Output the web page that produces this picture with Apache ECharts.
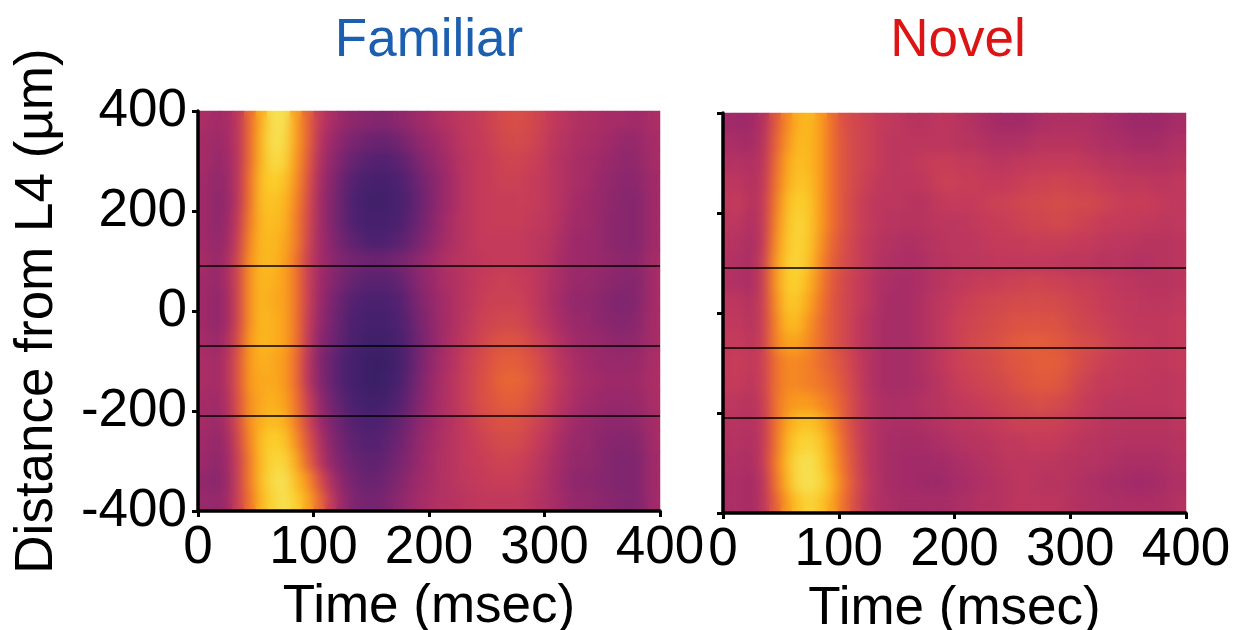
<!DOCTYPE html>
<html><head><meta charset="utf-8">
<style>
html,body{margin:0;padding:0;background:#fff;width:1241px;height:630px;overflow:hidden}
#heat,#top{position:absolute;left:0;top:0;width:1241px;height:630px}
#top{z-index:3}
.soft{position:absolute;z-index:2;backdrop-filter:blur(5.5px);-webkit-backdrop-filter:blur(5.5px)}
</style>
<script src="https://cdn.jsdelivr.net/npm/echarts@6/dist/echarts.min.js"></script>
</head><body>
<div id="heat"></div>
<div class="soft" style="left:198px;top:111px;width:462px;height:400px"></div>
<div class="soft" style="left:723px;top:113px;width:463px;height:400px"></div>
<div id="top"></div>
<script>
const timeCenters=[5,15,25,35,45,55,65,75,85,95,105,115,125,135,145,155,165,175,185,195,205,215,225,235,245,255,265,275,285,295,305,315,325,335,345,355,365,375,385,395];
const distanceCenters=[-380,-340,-300,-260,-220,-180,-140,-100,-60,-20,20,60,100,140,180,220,260,300,340,380];
const layerDepthsFamiliar=[90,-70,-210];
const layerDepthsNovel=[90,-70,-210];
const panelTitles=["Familiar","Novel"];
// rows listed from +380 µm (top) down to -380 µm
const familiarRows=[
[42,40,41,46,62,78,94,94,74,60,48,42,38,36,35,34,34,36,38,40,42,44,46,47,49,51,53,54,53,51,48,46,44,43,42,41,41,40,40,42],
[41,39,40,46,62,80,94,92,74,60,46,39,35,32,30,29,29,31,34,37,39,42,45,47,48,50,52,53,52,50,47,45,43,42,41,40,38,37,39,41],
[41,38,39,46,62,80,92,90,72,58,44,37,32,28,26,25,25,27,30,34,37,40,44,46,48,49,51,51,50,49,46,44,42,41,40,38,37,36,38,41],
[40,37,38,46,64,82,88,84,70,56,42,35,29,25,22,21,21,24,27,31,35,39,43,46,48,49,50,50,49,48,46,44,42,41,39,37,36,35,37,40],
[40,36,37,46,64,82,84,80,68,54,41,34,28,23,20,19,19,22,26,30,35,39,43,46,48,49,49,49,49,48,46,44,41,40,38,37,35,34,36,40],
[40,36,38,48,66,80,82,78,66,53,41,34,28,24,21,20,21,23,27,31,36,40,44,46,48,49,49,49,48,47,46,43,40,40,38,36,35,34,36,40],
[40,37,39,50,68,80,80,76,66,52,41,35,30,27,24,23,24,26,29,33,37,41,44,46,48,48,48,48,47,46,45,42,39,39,38,36,35,34,36,40],
[41,38,41,52,70,80,80,74,64,50,41,36,33,31,30,29,30,32,34,37,40,43,45,46,47,48,48,48,47,46,44,41,39,39,38,37,36,35,37,41],
[40,37,41,52,70,80,78,74,64,50,40,35,31,28,26,26,26,28,32,36,39,42,44,46,48,49,50,49,48,46,43,41,38,38,37,36,35,34,36,41],
[40,36,40,52,70,80,76,74,64,50,39,33,28,25,23,22,23,25,30,34,38,41,44,46,49,50,50,50,49,46,43,40,37,37,36,34,33,33,36,41],
[40,36,40,52,70,80,78,74,64,49,38,32,27,23,21,20,21,24,28,33,37,41,44,47,50,51,52,52,50,47,44,41,38,38,36,35,34,34,37,41],
[41,38,42,54,72,80,78,74,64,48,36,31,26,22,19,18,19,22,27,32,37,41,45,48,51,54,55,55,53,50,47,43,40,39,38,37,36,36,38,41],
[42,40,44,56,72,78,76,72,62,46,34,29,24,20,17,16,17,21,27,33,38,42,46,50,53,56,58,58,56,53,49,45,42,40,39,38,38,38,39,42],
[42,40,44,56,72,76,76,72,62,46,35,29,24,20,17,16,18,22,28,34,39,43,47,50,54,57,60,60,58,54,50,46,43,41,40,39,39,39,40,42],
[41,39,43,55,70,76,78,74,64,50,38,31,26,22,19,19,21,25,30,35,40,43,47,50,54,56,58,58,56,53,49,45,42,40,39,38,38,38,39,42],
[41,38,42,54,70,78,82,78,66,52,40,33,28,25,23,23,25,28,32,37,40,43,46,49,52,54,55,55,53,50,47,43,40,38,37,36,36,36,38,41],
[40,37,40,52,68,82,88,84,70,56,44,35,30,27,25,25,27,30,34,38,41,44,46,48,50,52,53,53,51,48,45,41,38,38,36,35,34,34,36,41],
[39,36,39,50,66,82,90,90,76,60,47,37,32,29,27,27,29,32,35,39,42,44,46,48,49,50,51,50,49,46,43,40,37,37,36,34,33,33,35,40],
[37,35,38,50,66,82,92,94,82,70,55,43,35,31,29,29,31,34,37,40,42,44,46,47,48,49,49,49,47,45,42,39,36,36,35,34,33,33,35,40],
[38,37,39,50,64,80,90,94,88,76,62,48,38,33,31,31,33,36,39,41,43,44,45,46,47,47,47,47,46,44,42,40,37,37,36,35,34,33,35,40]
];
const novelRows=[
[40,39,40,44,56,68,78,80,72,62,54,52,50,48,47,46,45,45,46,46,45,44,42,41,40,40,41,42,43,43,43,43,42,41,40,39,39,39,40,41],
[42,41,41,45,58,70,80,80,72,62,55,52,50,48,46,46,46,46,46,46,45,45,44,43,43,43,44,45,45,45,45,44,43,42,42,41,41,41,42,43],
[44,44,43,46,60,74,82,80,72,62,55,52,50,48,46,46,47,48,49,49,48,48,47,46,46,47,47,48,48,48,48,47,46,45,45,44,44,44,44,45],
[46,46,44,47,62,76,84,82,72,62,55,52,49,47,46,46,46,47,49,50,49,49,48,48,48,49,50,50,51,51,50,50,49,48,47,47,47,46,46,47],
[47,48,44,48,64,80,88,84,72,62,55,51,48,46,46,46,45,45,47,48,48,48,49,50,50,51,52,52,53,53,52,52,51,50,49,49,49,48,47,47],
[46,46,43,48,66,82,90,85,72,62,55,51,48,46,45,45,45,45,46,46,46,47,48,49,49,50,51,51,52,52,51,50,49,48,48,48,47,47,46,47],
[45,44,42,48,68,84,90,84,70,60,54,50,47,45,44,43,43,44,45,46,46,46,47,48,48,48,49,49,49,49,48,48,47,46,46,46,45,45,45,46],
[44,43,42,50,70,86,90,82,68,58,53,50,47,44,43,42,42,43,45,45,46,46,46,47,47,47,47,47,47,46,46,46,45,45,45,44,44,45,45,46],
[44,43,42,50,70,86,88,78,66,57,52,49,46,43,42,41,42,43,45,46,47,48,49,49,50,50,51,51,50,50,49,49,48,47,46,46,45,45,45,46],
[46,46,44,50,68,84,84,74,64,56,52,49,46,43,41,41,42,44,46,47,49,50,51,52,52,53,53,53,53,52,51,50,49,48,47,47,46,46,46,47],
[47,47,45,50,66,80,80,70,62,56,52,48,45,42,41,41,42,44,46,48,50,51,52,53,54,55,55,55,55,54,52,51,50,49,48,47,47,47,47,48],
[48,48,46,50,66,74,74,68,62,56,52,48,45,42,41,41,42,44,46,48,50,52,53,54,56,57,58,58,57,56,54,53,52,50,49,48,48,47,47,48],
[48,49,47,50,62,68,68,66,62,58,54,49,45,42,41,41,42,44,46,48,50,51,52,53,55,56,57,58,58,57,54,52,50,49,48,48,47,47,47,48],
[48,48,46,50,62,68,68,66,64,60,55,50,45,42,41,41,42,43,45,47,49,50,51,52,53,55,56,57,57,55,52,50,48,48,47,47,47,46,46,47],
[46,46,45,49,62,70,72,72,68,64,57,51,46,43,42,42,43,44,45,46,47,48,49,50,51,52,53,54,53,52,50,48,47,46,46,46,46,46,46,47],
[45,45,44,48,62,74,82,84,78,68,58,51,46,43,42,42,42,43,44,45,46,46,47,48,49,50,50,50,50,49,48,47,46,45,45,45,45,45,45,46],
[44,44,43,48,62,78,88,90,84,72,60,52,46,43,41,41,41,41,42,43,44,45,45,46,47,47,48,48,48,47,46,45,45,44,44,44,44,44,44,45],
[43,43,42,48,64,80,92,94,88,74,62,53,46,43,41,40,40,40,40,41,42,43,44,45,46,46,46,46,46,45,45,44,44,43,42,42,42,42,43,44],
[42,42,41,46,62,78,92,94,90,78,64,54,47,43,41,40,40,39,39,40,41,42,43,44,45,46,46,45,45,45,44,43,42,41,41,40,40,41,42,43],
[42,42,41,46,58,72,84,90,84,74,62,53,46,43,42,41,41,41,41,41,42,43,44,44,45,46,46,46,46,45,44,43,43,42,42,42,42,42,43,44]
];
const palette=['#3a1f66','#4f2170','#7a2470','#a22a68','#c43a5a','#de5540','#f0742a','#f99a1c','#fbb81f','#fbd02e','#f5e55f'];
const FONT='"Liberation Sans",Arial,sans-serif';
const rects=[{left:198,top:111,width:462,height:400,outerBoundsMode:'none'},{left:723,top:113,width:463,height:400,outerBoundsMode:'none'}];

function cells(rows){
  const out=[];
  rows.forEach((row,r)=>row.forEach((v,c)=>out.push([c,rows.length-1-r,v])));
  return out;
}
const heat=echarts.init(document.getElementById('heat'),null,{renderer:'canvas'});
heat.setOption({
  animation:false,
  grid:rects,
  xAxis:[0,1].map(i=>({type:'category',gridIndex:i,data:timeCenters,show:false})),
  yAxis:[0,1].map(i=>({type:'category',gridIndex:i,data:distanceCenters,show:false})),
  visualMap:{show:false,min:16,max:96,seriesIndex:[0,1],inRange:{color:palette}},
  series:[familiarRows,novelRows].map((rows,i)=>({type:'heatmap',xAxisIndex:i,yAxisIndex:i,data:cells(rows),progressive:0}))
});
const top_=echarts.init(document.getElementById('top'),null,{renderer:'canvas'});
const lineStyle={color:'#000',width:3.5};
top_.setOption({
  animation:false,
  backgroundColor:'transparent',
  title:[
    {text:panelTitles[0],left:424,top:10,textAlign:'center',textStyle:{fontFamily:FONT,fontSize:53,fontWeight:'normal',color:'#1c5fb0'}},
    {text:panelTitles[1],left:953,top:10,textAlign:'center',textStyle:{fontFamily:FONT,fontSize:53,fontWeight:'normal',color:'#dc1414'}}
  ],
  grid:rects,
  xAxis:[0,1].map(i=>({type:'value',gridIndex:i,min:0,max:400,interval:100,
    name:'Time (msec)',nameLocation:'middle',nameGap:70,
    nameTextStyle:{fontFamily:FONT,fontSize:53,color:'#000'},
    axisLine:{show:true,onZero:false,lineStyle},
    axisTick:{show:true,length:6,lineStyle:{color:'#000',width:3}},
    axisLabel:{show:true,margin:11,fontFamily:FONT,fontSize:53,color:'#000'},
    splitLine:{show:false}})),
  yAxis:[0,1].map(i=>({type:'value',gridIndex:i,min:-400,max:400,interval:200,
    name:i===0?'Distance from L4 (µm)':'',nameLocation:'middle',nameGap:134,
    nameTextStyle:{fontFamily:FONT,fontSize:53,color:'#000'},
    axisLine:{show:true,onZero:false,lineStyle},
    axisTick:{show:true,length:6,lineStyle:{color:'#000',width:3}},
    axisLabel:{show:i===0,margin:11,padding:[5,0,0,0],fontFamily:FONT,fontSize:53,color:'#000'},
    splitLine:{show:false}})),
  series:[layerDepthsFamiliar,layerDepthsNovel].map((d,i)=>({
    type:'line',xAxisIndex:i,yAxisIndex:i,silent:true,symbol:'none',data:[],
    markLine:{silent:true,symbol:'none',animation:false,label:{show:false},
      lineStyle:{color:'#000',width:1.5,type:'solid'},data:d.map(y=>({yAxis:y}))}
  }))
});
</script>
</body></html>
